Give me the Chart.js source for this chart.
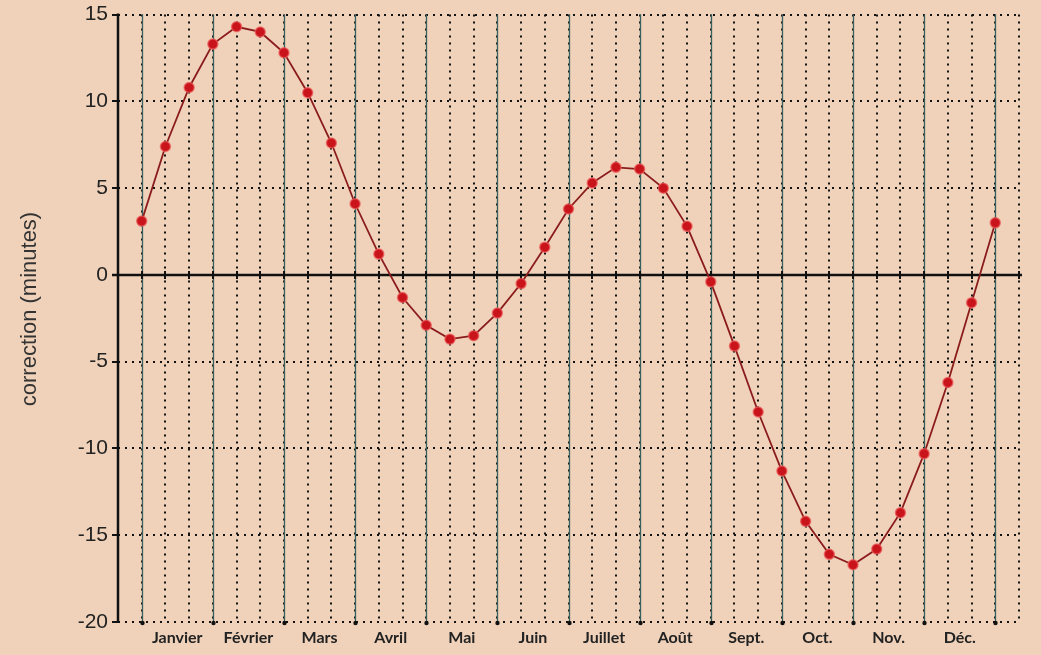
<!DOCTYPE html>
<html>
<head>
<meta charset="utf-8">
<script src="https://cdn.jsdelivr.net/npm/chart.js@4.4.1/dist/chart.umd.min.js"></script>
<style>
    html, body { margin: 0; padding: 0; background: #f0d2ba; }
    #wrap { width: 1041px; height: 655px; }
</style>
</head>
<body>
<div id="wrap"><canvas id="eq-chart" width="1041" height="655"></canvas></div>
<script>
// Equation of time, one reading every ~10 days (3 per month)
const months = ['Janvier', 'Février', 'Mars', 'Avril', 'Mai', 'Juin', 'Juillet', 'Août', 'Sept.', 'Oct.', 'Nov.', 'Déc.'];
const correction = [3.1, 7.4, 10.8, 13.3, 14.3, 14.0, 12.8, 10.5, 7.6, 4.1, 1.2, -1.3,
    -2.9, -3.7, -3.5, -2.2, -0.5, 1.6, 3.8, 5.3, 6.2, 6.1, 5.0, 2.8,
    -0.4, -4.1, -7.9, -11.3, -14.2, -16.1, -16.7, -15.8, -13.7, -10.3, -6.2, -1.6, 3.0];
const yTicks = [-20, -15, -10, -5, 0, 5, 10, 15];

const xMin = -1, xMax = 37;   // one step of margin each side
const monthCentres = months.map((m, i) => i * 3 + 1.5);

// grid, axes and the y title, drawn from the chart's own scales
const gridPlugin = {
    id: 'sundialGrid',
    beforeDatasetsDraw(chart) {
        const { ctx, chartArea: a, scales: { x, y } } = chart;
        ctx.save();

        // dotted lines
        ctx.strokeStyle = '#111';
        ctx.lineWidth = 2;
        ctx.setLineDash([2, 5]);
        for (let i = xMin + 1; i <= xMax; i++) {
            const px = Math.round(x.getPixelForValue(i));
            ctx.beginPath();
            ctx.moveTo(px, a.top);
            ctx.lineTo(px, a.bottom);
            ctx.stroke();
        }
        yTicks.forEach(v => {
            if (v === 0) return;
            const py = Math.round(y.getPixelForValue(v));
            ctx.beginPath();
            ctx.moveTo(a.left, py);
            ctx.lineTo(a.right + 2, py);
            ctx.stroke();
        });
        ctx.setLineDash([]);

        // month boundaries
        ctx.strokeStyle = '#35605c';
        ctx.lineWidth = 1.3;
        for (let i = 0; i <= 36; i += 3) {
            const px = Math.round(x.getPixelForValue(i)) + 0.5;
            ctx.beginPath();
            ctx.moveTo(px, a.top);
            ctx.lineTo(px, a.bottom);
            ctx.stroke();
            ctx.fillStyle = '#111';
            ctx.beginPath();
            ctx.arc(px, a.bottom + 1, 2.2, 0, Math.PI * 2);
            ctx.fill();
        }

        // zero line with small ticks
        const y0 = y.getPixelForValue(0);
        ctx.strokeStyle = '#111';
        ctx.lineWidth = 2.5;
        ctx.beginPath();
        ctx.moveTo(a.left - 6, y0);
        ctx.lineTo(a.right + 3, y0);
        ctx.stroke();
        ctx.lineWidth = 2;
        for (let i = xMin + 1; i <= xMax; i++) {
            const px = Math.round(x.getPixelForValue(i));
            ctx.beginPath();
            ctx.moveTo(px, y0 - 4);
            ctx.lineTo(px, y0 + 4);
            ctx.stroke();
        }

        // y axis
        ctx.lineWidth = 2.5;
        ctx.beginPath();
        ctx.moveTo(a.left, a.top - 1);
        ctx.lineTo(a.left, a.bottom + 1);
        ctx.stroke();
        ctx.lineWidth = 2;
        yTicks.forEach(v => {
            const py = Math.round(y.getPixelForValue(v));
            ctx.beginPath();
            ctx.moveTo(a.left - 6, py);
            ctx.lineTo(a.left, py);
            ctx.stroke();
        });

        // y title
        ctx.translate(30, 309);
        ctx.rotate(-Math.PI / 2);
        ctx.fillStyle = '#333';
        ctx.font = '22px "Liberation Sans", Arial, sans-serif';
        ctx.textAlign = 'center';
        ctx.textBaseline = 'middle';
        ctx.fillText('correction (minutes)', 0, 0);

        ctx.restore();
    }
};

const ctx = document.getElementById('eq-chart').getContext('2d');
new Chart(ctx, {
    type: 'line',
    data: {
        datasets: [{
            data: correction.map((v, i) => ({ x: i, y: v })),
            borderColor: '#8b1c1c',
            borderWidth: 1.8,
            pointRadius: 5,
            pointBackgroundColor: '#c8141a',
            pointBorderColor: 'rgba(235, 90, 90, 0.7)',
            pointBorderWidth: 1.5,
            tension: 0,
        }],
    },
    options: {
        responsive: false,
        animation: false,
        events: [],
        layout: { padding: { top: 10, right: 22, left: 0, bottom: 0 } },
        plugins: {
            legend: { display: false },
            tooltip: { enabled: false },
        },
        scales: {
            x: {
                type: 'linear',
                min: xMin,
                max: xMax,
                afterBuildTicks: s => { s.ticks = monthCentres.map(v => ({ value: v })); },
                afterFit: s => { s.height = 33; },
                grid: { display: false, drawTicks: false },
                border: { display: false },
                ticks: {
                    autoSkip: false,
                    maxRotation: 0,
                    padding: 6,
                    color: '#222',
                    font: { family: 'Lato, "Open Sans", sans-serif', size: 16, weight: 'bold' },
                    callback: (v, i) => months[i],
                },
            },
            y: {
                min: -20,
                max: 15,
                afterBuildTicks: s => { s.ticks = yTicks.map(v => ({ value: v })); },
                afterFit: s => { s.width = 118; },
                grid: { display: false },
                border: { display: false },
                ticks: {
                    padding: 2,
                    color: '#222',
                    font: { family: '"Liberation Sans", Arial, sans-serif', size: 21 },
                },
            },
        },
    },
    plugins: [gridPlugin],
});
</script>
</body>
</html>
